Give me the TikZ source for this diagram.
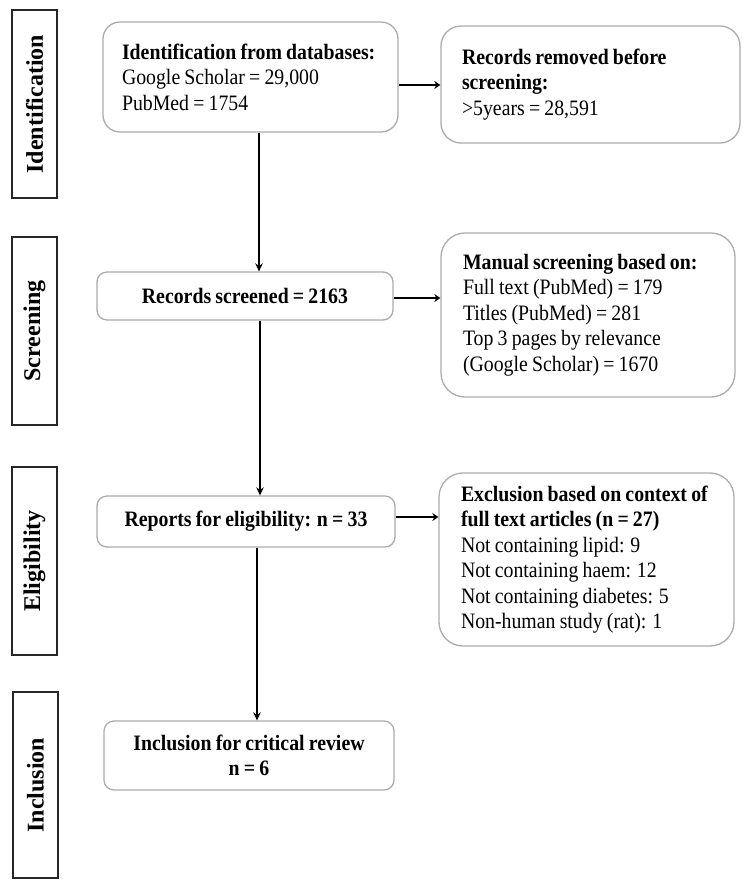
\documentclass[tikz,border=0pt]{standalone}
\usepackage{fontspec}
\setmainfont{Liberation Serif}[FakeStretch=0.9, WordSpace=0.85]
\newfontfamily\labfam{Liberation Serif}
\usetikzlibrary{arrows.meta}
\definecolor{boxgray}{RGB}{172,172,172}
\newcommand\flowfont{\fontsize{22}{25.5}\selectfont}
\newcommand\labfont{\labfam\fontsize{24}{24}\selectfont}
\begin{document}
\begin{tikzpicture}[x=1pt,y=-1pt,
  flow/.style={draw=boxgray, line width=1.3pt, rounded corners=#1, fill=white, font=\flowfont},
  flow/.default=15pt,
  lab/.style={draw=black!85, line width=1.5pt, rotate=90, minimum height=45pt, inner sep=0pt, font=\labfont\bfseries},
  varr/.style={-{Stealth[length=8pt,width=7.5pt]}, line width=1.7pt},
  harr/.style={-{Stealth[length=6pt,width=8pt]}, line width=2.4pt}]
\fill[white] (0,0) rectangle (750,892);
\useasboundingbox (0,0) rectangle (750,892);

% phase labels
\node[lab, minimum width=188pt] (L1) at (34.5,104) {Identification};
\node[lab, minimum width=188pt] (L2) at (34.5,331) {Screening};
\node[lab, minimum width=188pt] (L3) at (34.5,561) {Eligibility};
\node[lab, minimum width=186pt] (L4) at (35.5,785) {Inclusion};

% main boxes
\node[flow=17pt, minimum height=110pt, inner xsep=19pt, text width=257pt, align=flush left] (A) at (250.5,77)
  {\textbf{Identification from databases:}\\Google Scholar = 29,000\\PubMed = 1754};
\node[flow=20pt, minimum height=117pt, inner xsep=21pt, text width=257pt, align=flush left] (B) at (590.5,84.5)
  {\textbf{Records removed before}\\\textbf{screening:}\\>5years = 28,591};
\node[flow=10pt, minimum width=296pt, minimum height=48pt, align=center] (C) at (245,296)
  {\textbf{Records screened = 2163}};
\node[flow=24pt, minimum height=164pt, inner xsep=22pt, text width=250pt, align=flush left] (D) at (588,315)
  {\textbf{Manual screening based on:}\\Full text (PubMed) = 179\\Titles (PubMed) = 281\\Top 3 pages by relevance\\(Google Scholar) = 1670};
\node[flow=10pt, minimum width=298pt, minimum height=51pt, align=center] (E) at (246,521.5)
  {\textbf{Reports for eligibility: n = 33}};
\node[flow=24pt, minimum height=173pt, inner xsep=22pt, text width=251pt, align=flush left] (F) at (586.5,559.5)
  {\textbf{Exclusion based on context of}\\\textbf{full text articles (n = 27)}\\Not containing lipid: 9\\Not containing haem: 12\\Not containing diabetes: 5\\Non-human study (rat): 1};
\node[flow=10pt, minimum width=290pt, minimum height=69pt, align=center] (G) at (249,755.5)
  {\textbf{Inclusion for critical review}\\\textbf{n = 6}};

% connector guides
\coordinate (x1) at (259,0);
\coordinate (x2) at (260,0);
\coordinate (x3) at (257,0);
\coordinate (h1) at (0,85);
\coordinate (h2) at (0,298);
\coordinate (h3) at (0,517);

\draw[varr] (A.south -| x1) -- (C.north -| x1);
\draw[varr] (C.south -| x2) -- (E.north -| x2);
\draw[varr] (E.south -| x3) -- (G.north -| x3);
\draw[harr] (A.east |- h1) -- (B.west |- h1);
\draw[harr] (C.east |- h2) -- (D.west |- h2);
\draw[harr] (E.east |- h3) -- (F.west |- h3);
\end{tikzpicture}
\end{document}
